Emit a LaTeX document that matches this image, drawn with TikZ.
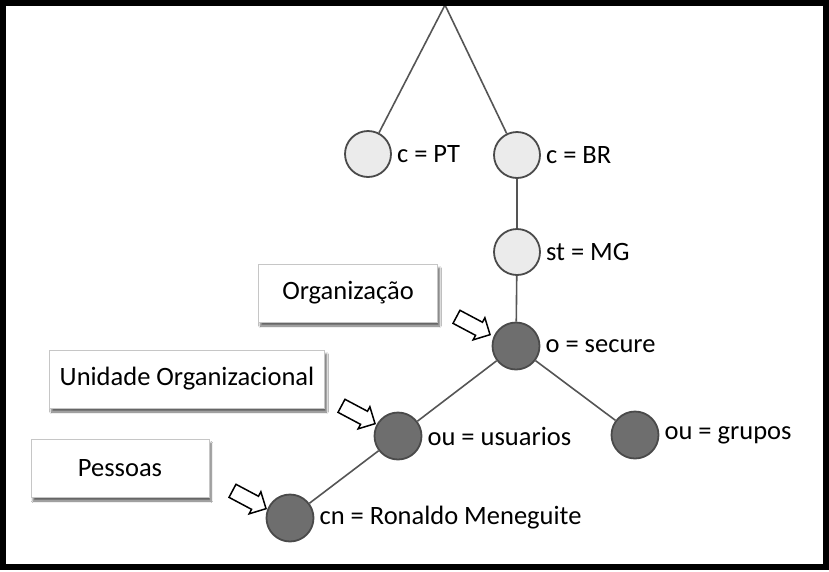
\documentclass[tikz,border=0pt]{standalone}
\usepackage{fontspec}
\setmainfont{Carlito}
\usetikzlibrary{shapes.arrows,shadows.blur}
\definecolor{lightnode}{HTML}{EBEBEB}
\definecolor{darknode}{HTML}{6E6E6E}
\definecolor{rim}{HTML}{4A4A4A}
\definecolor{edgegray}{HTML}{555555}

\begin{document}
\begin{tikzpicture}[x=1pt,y=-1pt,
  lbl/.style={font=\fontsize{26.5}{30}\selectfont,inner sep=5pt},
  lightdot/.style={circle,draw=rim,line width=1.8pt,fill=lightnode,
               minimum size=46pt,inner sep=0pt,label distance=0pt},
  darkdot/.style={circle,draw=rim,line width=1.8pt,fill=darknode,
               minimum size=47pt,inner sep=0pt,label distance=0pt},
  tagbox/.style={draw=gray!45,fill=white,minimum height=58pt,
               font=\fontsize{26.5}{30}\selectfont,text centered,
               blur shadow={shadow xshift=2pt,shadow yshift=-4pt,
                            shadow blur steps=8,shadow opacity=60}},
  pointer/.style={single arrow,draw=black,fill=white,line width=1.5pt,
               minimum height=38pt,minimum width=25pt,inner sep=6.5pt,
               single arrow head extend=5pt},
  edge/.style={draw=edgegray,line width=1.6pt}]
\useasboundingbox (0,0) rectangle (829,571);
\fill[white] (0,0) rectangle (829,571);
\coordinate (root) at (445,5);
\node[lightdot,label={[lbl]right:c = PT}] (pt)  at (368,154) {};
\node[lightdot,label={[lbl]right:c = BR}] (br)  at (517,155) {};
\node[lightdot,label={[lbl]right:st = MG}] (mg) at (517,252) {};
\node[darkdot,label={[lbl]right:o = secure}] (org) at (516,346) {};
\node[darkdot,label={[lbl]right:ou = usuarios}] (usr) at (398,436) {};
\node[darkdot,label={[lbl]right:ou = grupos}] (grp) at (635,435) {};
\node[darkdot,label={[lbl]right:cn = Ronaldo Meneguite}] (cn) at (290,518) {};
\draw[edge] (root) -- (pt);
\draw[edge] (root) -- (br);
\draw[edge] (br)  -- (mg);
\draw[edge] (mg)  -- (org);
\draw[edge] (org) -- (usr);
\draw[edge] (org) -- (grp);
\draw[edge] (usr) -- (cn);
% legenda
\node[tagbox,minimum width=179pt] (orgbox) at (348,293) {Organização};
\node[tagbox,minimum width=275pt] (unibox) at (187,379) {Unidade Organizacional};
\node[tagbox,minimum width=178pt] (pesbox) at (120,468) {Pessoas};
\node[pointer,rotate=-28] (orgarr) at (470,324) {};
\node[pointer,rotate=-28] (uniarr) at (355,413) {};
\node[pointer,rotate=-28] (pesarr) at (246,498) {};
\draw[line width=6pt] (3,2.5) rectangle (826,567);
\end{tikzpicture}
\end{document}
